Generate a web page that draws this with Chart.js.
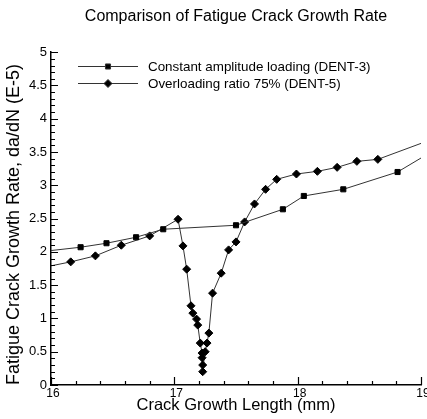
<!DOCTYPE html>
<html>
<head>
<meta charset="utf-8">
<script src="https://cdn.jsdelivr.net/npm/chart.js@4/dist/chart.umd.min.js"></script>
<style>
  body { margin: 0; background: #fff; }
  canvas { display: block; }
</style>
</head>
<body>
<canvas id="chart" width="427" height="419"></canvas>
<script>
"use strict";

// Constant amplitude loading (DENT-3)
const constX = [16.0, 16.24, 16.45, 16.69, 16.91, 17.50, 17.88, 18.05, 18.37, 18.81, 19.0];
const constY = [2.02, 2.07, 2.13, 2.22, 2.34, 2.40, 2.64, 2.84, 2.94, 3.20, 3.41];

// Overloading ratio 75% (DENT-5)
const overX = [16.0, 16.16, 16.36, 16.57, 16.80, 17.03, 17.07, 17.10, 17.135, 17.15, 17.18, 17.19, 17.21,
    17.225, 17.225, 17.23, 17.23, 17.25, 17.265, 17.28, 17.31, 17.38, 17.44, 17.50, 17.57, 17.65, 17.74,
    17.83, 17.99, 18.16, 18.32, 18.48, 18.65, 19.0];
const overY = [1.79, 1.85, 1.94, 2.10, 2.24, 2.49, 2.09, 1.74, 1.19, 1.08, 0.99, 0.90, 0.63,
    0.48, 0.41, 0.30, 0.20, 0.50, 0.63, 0.78, 1.38, 1.68, 2.03, 2.15, 2.45, 2.72, 2.94,
    3.09, 3.17, 3.21, 3.27, 3.36, 3.39, 3.63];

const seriesLabels = ['Constant amplitude loading (DENT-3)', 'Overloading ratio 75% (DENT-5)'];
const xRange = [16, 19];
const yRange = [0, 5];

const FONT = "'Liberation Sans', Arial, Helvetica, sans-serif";

function toPoints(xs, ys) {
    return xs.map((x, i) => ({ x: x, y: ys[i] }));
}

// no marker drawn where a point sits on the frame edge
function edgeRadius(r) {
    return c => {
        const v = c.raw;
        if (!v) return r;
        return (v.x <= xRange[0] || v.x >= xRange[1]) ? 0 : r;
    };
}

// inward major/minor tick marks on left and bottom axes
const tickMarks = {
    id: 'tickMarks',
    afterDatasetsDraw(chart) {
        const ctx = chart.ctx;
        const area = chart.chartArea;
        const xs = chart.scales.x;
        const ys = chart.scales.y;
        ctx.save();
        ctx.strokeStyle = '#000';
        ctx.lineWidth = 1.2;
        ctx.beginPath();
        for (let i = 0; i <= 50; i++) {
            const py = Math.round(ys.getPixelForValue(i / 10)) + 0.5;
            const len = (i % 5 === 0) ? 7 : 4;
            ctx.moveTo(area.left, py);
            ctx.lineTo(area.left + len, py);
        }
        for (let i = 0; i <= 15; i++) {
            const px = Math.round(xs.getPixelForValue(16 + i / 5)) + 0.5;
            const len = (i % 5 === 0) ? 8 : 4;
            ctx.moveTo(px, area.bottom);
            ctx.lineTo(px, area.bottom - len);
        }
        ctx.stroke();
        ctx.restore();
    }
};

// legend drawn inside the plot, upper left
const innerLegend = {
    id: 'innerLegend',
    afterDatasetsDraw(chart) {
        const ctx = chart.ctx;
        const rows = [66, 83];
        ctx.save();
        chart.data.datasets.forEach((ds, i) => {
            const y = rows[i];
            ctx.strokeStyle = ds.borderColor;
            ctx.lineWidth = ds.borderWidth;
            ctx.beginPath();
            ctx.moveTo(78, y + 0.5);
            ctx.lineTo(138, y + 0.5);
            ctx.stroke();
            ctx.fillStyle = '#000';
            Chart.helpers.drawPoint(ctx, {
                pointStyle: ds.pointStyle,
                radius: ds.legendRadius,
                borderWidth: 1
            }, 108, y + 0.5);
            ctx.font = '13.4px ' + FONT;
            ctx.textBaseline = 'middle';
            ctx.fillText(ds.label, 148, y + 1);
        });
        ctx.restore();
    }
};

new Chart(document.getElementById('chart').getContext('2d'), {
    type: 'scatter',
    data: {
        datasets: [{
            label: seriesLabels[0],
            data: toPoints(constX, constY),
            showLine: true,
            borderColor: '#333',
            backgroundColor: '#000',
            borderWidth: 1,
            pointStyle: 'rect',
            pointRadius: edgeRadius(3.6),
            pointBorderColor: '#000',
            pointBackgroundColor: '#000',
            legendRadius: 3.6
        }, {
            label: seriesLabels[1],
            data: toPoints(overX, overY),
            showLine: true,
            borderColor: '#333',
            backgroundColor: '#000',
            borderWidth: 1,
            pointStyle: 'rectRot',
            pointRadius: edgeRadius(4),
            pointBorderColor: '#000',
            pointBackgroundColor: '#000',
            legendRadius: 4
        }]
    },
    options: {
        responsive: false,
        animation: false,
        layout: { padding: { left: 0, right: 6, top: 0, bottom: 0 } },
        plugins: {
            legend: { display: false },
            tooltip: { enabled: false },
            title: {
                display: true,
                fullSize: false,
                text: 'Comparison of Fatigue Crack Growth Rate',
                color: '#000',
                font: { family: FONT, size: 16, weight: 'normal' },
                padding: { top: 7, bottom: 26 }
            }
        },
        scales: {
            x: {
                type: 'linear',
                min: xRange[0],
                max: xRange[1],
                grid: { display: false, drawTicks: false },
                border: { display: true, color: '#000', width: 1.5 },
                ticks: {
                    stepSize: 1,
                    padding: 1,
                    labelOffset: 2,
                    color: '#000',
                    font: { family: FONT, size: 12 },
                    callback: v => String(v)
                },
                title: {
                    display: true,
                    text: 'Crack Growth Length (mm)',
                    color: '#000',
                    font: { family: FONT, size: 16.5 },
                    padding: { top: 0, bottom: 4 }
                },
                afterFit(scale) {
                    scale.height = 34;
                    scale.paddingLeft = 0;
                    scale.paddingRight = 0;
                }
            },
            y: {
                type: 'linear',
                min: yRange[0],
                max: yRange[1],
                grid: { display: false, drawTicks: false },
                border: { display: true, color: '#000', width: 1.5 },
                ticks: {
                    stepSize: 0.5,
                    padding: 4,
                    color: '#000',
                    font: { family: FONT, size: 13 },
                    callback: v => String(v)
                },
                title: {
                    display: true,
                    text: 'Fatigue Crack Growth Rate, da/dN (E-5)',
                    color: '#000',
                    align: 'start',
                    font: { family: FONT, size: 18 },
                    padding: { top: 3, bottom: 0 }
                },
                afterFit(scale) {
                    scale.width = 51;
                    scale.paddingTop = 0;
                    scale.paddingBottom = 0;
                }
            }
        }
    },
    plugins: [tickMarks, innerLegend]
});
</script>
</body>
</html>
